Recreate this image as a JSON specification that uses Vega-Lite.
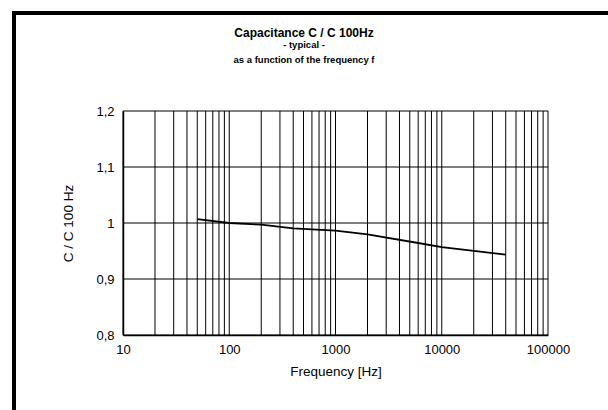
{
  "$schema": "https://vega.github.io/schema/vega-lite/v6.json",
  "width": 594,
  "height": 397,
  "autosize": {"type": "none"},
  "padding": {"left": 14, "top": 13, "right": 0, "bottom": 0},
  "background": "white",
  "config": {
    "font": "Liberation Sans",
    "view": {"stroke": "black", "strokeWidth": 4, "strokeDash": [594, 991, 397, 0], "strokeCap": "square"}
  },
  "title": {
    "text": "Capacitance C / C 100Hz",
    "subtitle": ["-  typical  -", "as a function of the frequency  f"],
    "anchor": "middle",
    "frame": "group",
    "dx": -7,
    "font": "Liberation Sans",
    "fontSize": 12,
    "fontWeight": "bold",
    "color": "black",
    "subtitleFont": "Liberation Sans",
    "subtitleFontSize": 9.5,
    "subtitleFontWeight": "bold",
    "subtitleColor": "black",
    "subtitlePadding": 0,
    "subtitleLineHeight": 15,
    "offset": -52
  },
  "datasets": {
    "gridx": [
      {"f": 10}, {"f": 20}, {"f": 30}, {"f": 40}, {"f": 50}, {"f": 60}, {"f": 70}, {"f": 80}, {"f": 90},
      {"f": 100}, {"f": 200}, {"f": 300}, {"f": 400}, {"f": 500}, {"f": 600}, {"f": 700}, {"f": 800}, {"f": 900},
      {"f": 1000}, {"f": 2000}, {"f": 3000}, {"f": 4000}, {"f": 5000}, {"f": 6000}, {"f": 7000}, {"f": 8000}, {"f": 9000},
      {"f": 10000}, {"f": 20000}, {"f": 30000}, {"f": 40000}, {"f": 50000}, {"f": 60000}, {"f": 70000}, {"f": 80000}, {"f": 90000},
      {"f": 100000}
    ],
    "gridy": [{"c": 0.8}, {"c": 0.9}, {"c": 1.0}, {"c": 1.1}, {"c": 1.2}],
    "curve": [
      {"f": 50, "c": 1.007},
      {"f": 100, "c": 1.0},
      {"f": 200, "c": 0.997},
      {"f": 400, "c": 0.9905},
      {"f": 1000, "c": 0.9863},
      {"f": 2000, "c": 0.9797},
      {"f": 6000, "c": 0.9643},
      {"f": 10000, "c": 0.957},
      {"f": 40000, "c": 0.9434}
    ]
  },
  "layer": [
    {
      "data": {"name": "curve"},
      "mark": {"type": "line", "color": "black", "strokeWidth": 1.8},
      "encoding": {
        "x": {
          "field": "f",
          "type": "quantitative",
          "scale": {"type": "log", "domain": [10, 100000], "nice": false, "range": [109, 534]},
          "axis": {
            "title": "Frequency [Hz]",
            "titleFontSize": 13.5,
            "titleFontWeight": "normal",
            "titleColor": "black",
            "titlePadding": 8,
            "offset": -75,
            "values": [10, 100, 1000, 10000, 100000],
            "format": "d",
            "labelFontSize": 13,
            "labelColor": "black",
            "labelPadding": 8,
            "labelOverlap": false,
            "labelFlush": false,
            "ticks": false,
            "grid": false,
            "domainColor": "black",
            "domainWidth": 1.5
          }
        },
        "y": {
          "field": "c",
          "type": "quantitative",
          "scale": {"domain": [0.8, 1.2], "nice": false, "zero": false, "range": [322, 98]},
          "axis": {
            "title": "C / C 100 Hz",
            "titleFontSize": 13.5,
            "titleFontWeight": "normal",
            "titleColor": "black",
            "titlePadding": 20,
            "offset": -109,
            "values": [0.8, 0.9, 1, 1.1, 1.2],
            "labelExpr": "replace(format(datum.value, '.1~f'), '.', ',')",
            "labelFontSize": 13,
            "labelColor": "black",
            "labelPadding": 9,
            "labelFlush": false,
            "ticks": false,
            "grid": false,
            "domainColor": "black",
            "domainWidth": 1.5
          }
        }
      }
    },
    {
      "data": {"name": "gridx"},
      "mark": {"type": "rule", "color": "black", "strokeWidth": 1},
      "encoding": {
        "x": {"field": "f", "type": "quantitative"},
        "y": {"datum": 0.8, "type": "quantitative"},
        "y2": {"datum": 1.2}
      }
    },
    {
      "data": {"name": "gridy"},
      "mark": {"type": "rule", "color": "black", "strokeWidth": 1},
      "encoding": {
        "y": {"field": "c", "type": "quantitative"},
        "x": {"datum": 10, "type": "quantitative"},
        "x2": {"datum": 100000}
      }
    }
  ]
}
